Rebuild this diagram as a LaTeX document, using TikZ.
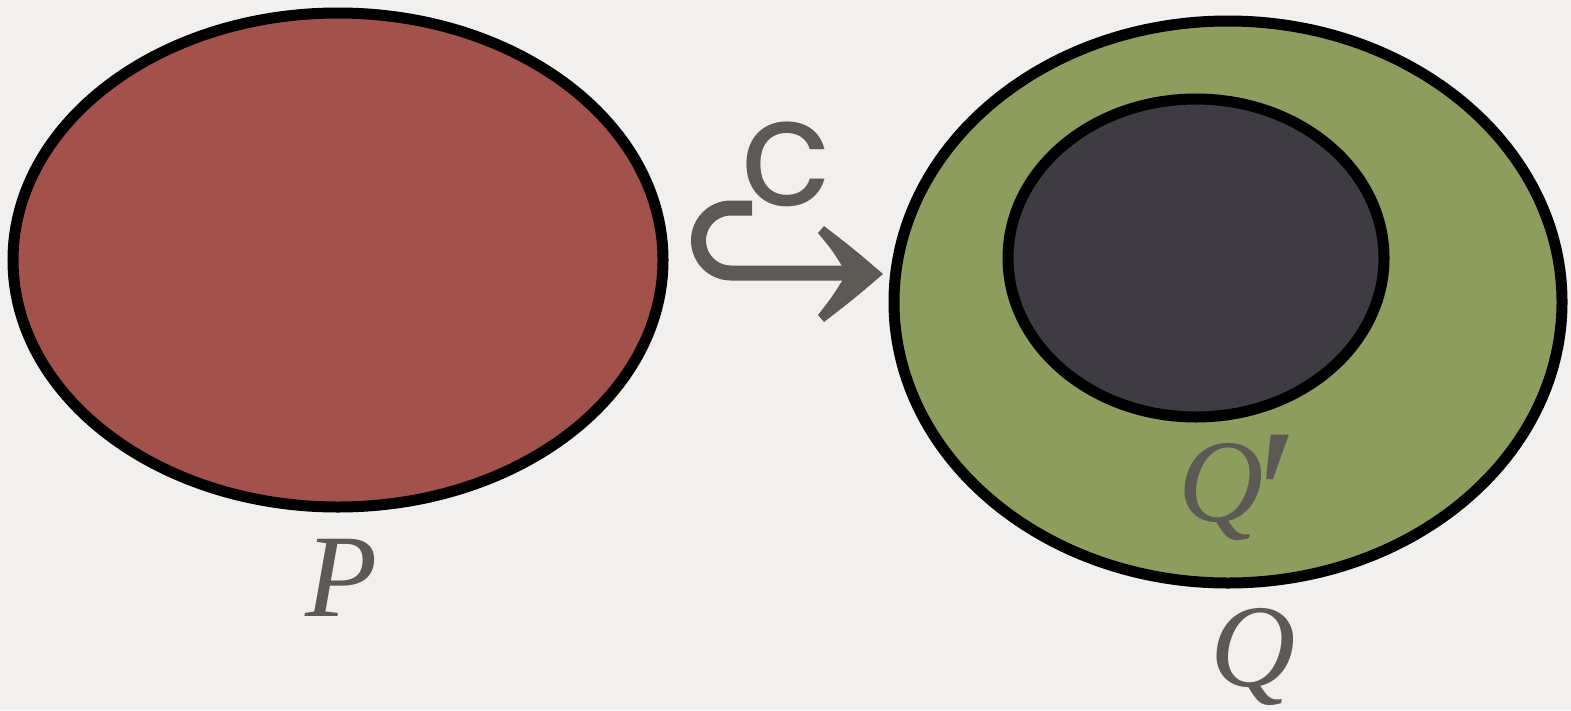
\documentclass[tikz,border=0pt]{standalone}
\usepackage{fontspec}
\newfontfamily\csans{Poppins}
\newfontfamily\lserif{Liberation Serif}
\usetikzlibrary{shapes.geometric}
\definecolor{bgc}{HTML}{F1F0EE}
\definecolor{redc}{HTML}{A3524B}
\definecolor{greenc}{HTML}{8D9D5E}
\definecolor{darkc}{HTML}{3E3C42}
\definecolor{inkc}{HTML}{5D5A55}
\tikzset{
  blob/.style={ellipse, draw=black, line width=11pt, inner sep=0pt},
  lbl/.style={text=inkc, inner sep=0pt, anchor=base west, font=\lserif\itshape\fontsize{118}{118}\selectfont},
  hookline/.style={draw=inkc, line width=15pt},
}
\begin{document}
\begin{tikzpicture}[x=1pt,y=-1pt]
\fill[bgc] (0,0) rectangle (1571,710);
\useasboundingbox (0,0) rectangle (1571,710);
\node[blob, fill=redc, minimum width=650pt, minimum height=494pt] (P) at (338,260) {};
\node[blob, fill=greenc, minimum width=668pt, minimum height=562pt] (Q) at (1228,302) {};
\node[blob, fill=darkc, minimum width=376pt, minimum height=318pt] (Qp) at (1196,258) {};
\node[lbl] (Plbl) at (305,616) {P};
\node[lbl] (Qplbl) at (1178,521) {Q\kern-18pt\smash{\raisebox{-38pt}{\fontsize{190}{190}\selectfont ′}}};
\node[lbl] (Qlbl) at (1210,686) {Q};
% hook arrow
\coordinate (hs) at (752,208);
\coordinate (tip) at (883,274);
\draw[hookline] (hs) -- (731,208) arc[start angle=90, end angle=270, radius=32.5pt] -- (850,273);
\fill[inkc] (tip) .. controls (855,250) .. (824,226) -- (818,233)
  .. controls (832,250) .. (842,266) -- (842,281)
  .. controls (832,297) .. (818,315) -- (824,322)
  .. controls (855,298) .. (tip) -- cycle;
\node[text=inkc, inner sep=0pt, font=\csans\fontsize{150}{150}\selectfont] (c) at (786,164) {c};
\end{tikzpicture}
\end{document}
